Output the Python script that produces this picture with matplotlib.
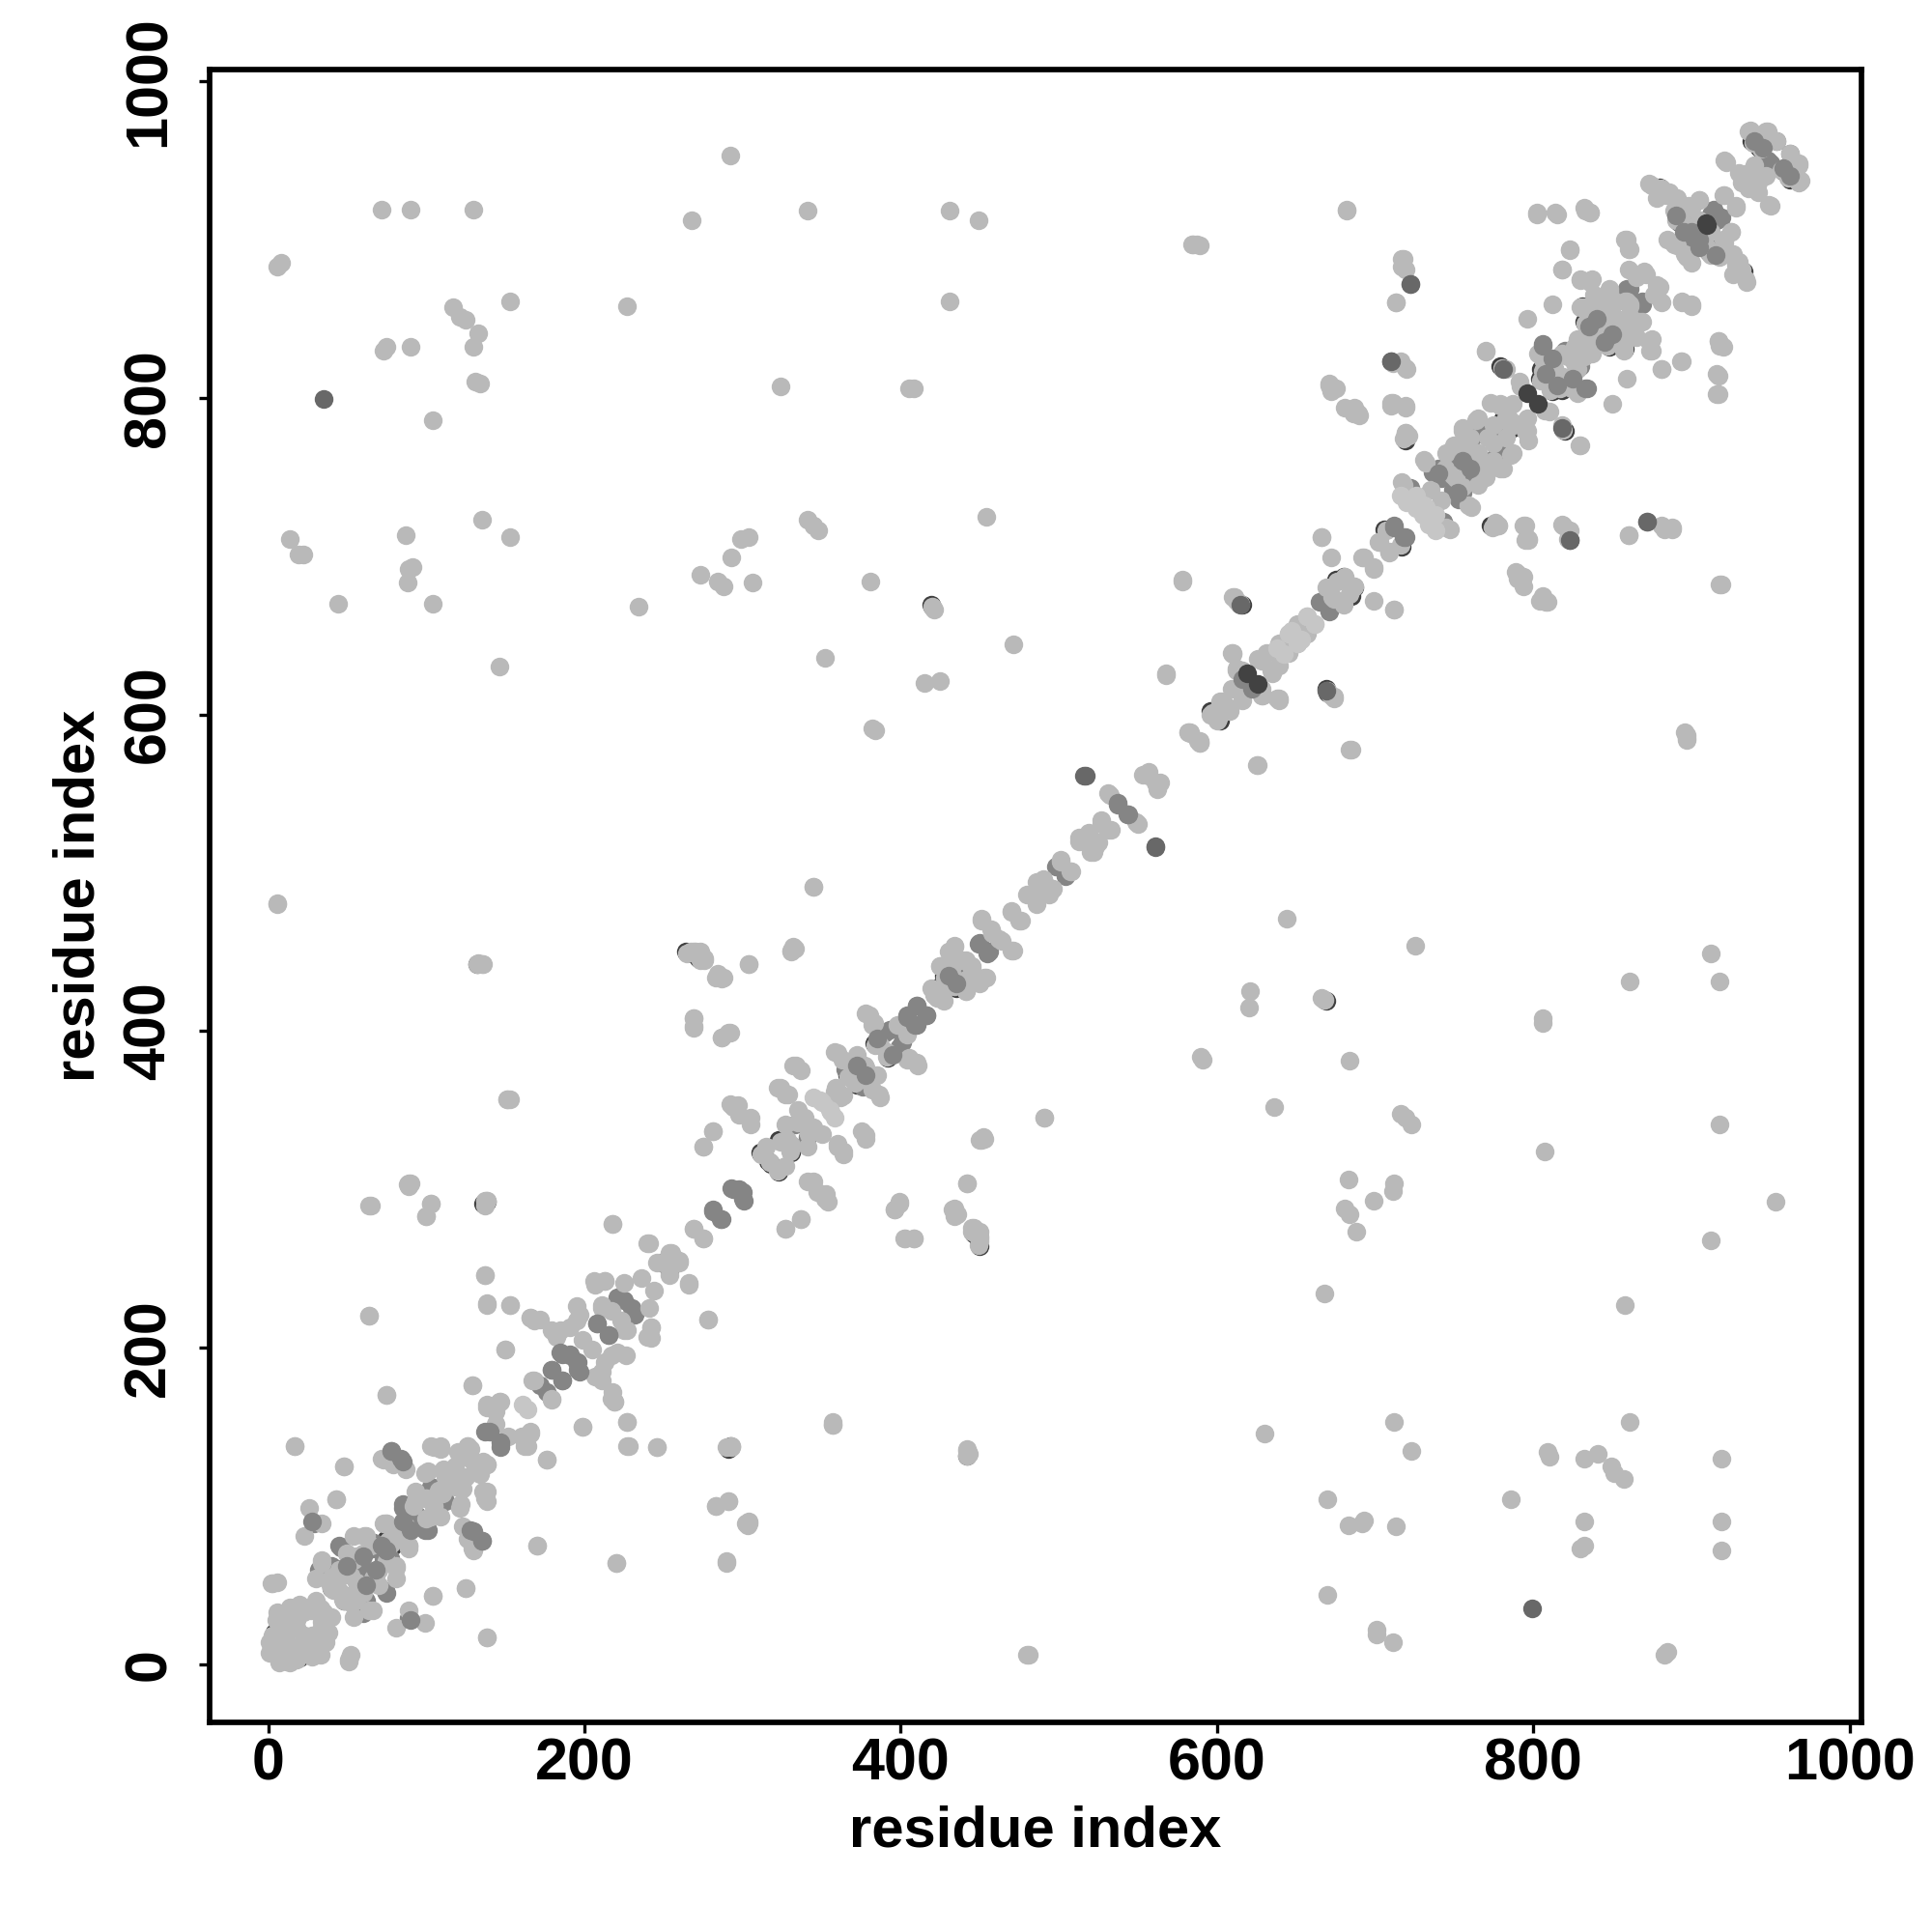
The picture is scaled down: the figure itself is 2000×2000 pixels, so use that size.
import numpy as np
import matplotlib
matplotlib.use("Agg")
import matplotlib.pyplot as plt

# contact pairs (i, j), every pair is drawn on both sides of the diagonal
# these sit under the light points, only a thin edge stays visible
under_dark = [
    (4, 20), (10, 13), (17, 24), (40, 48), (44, 47), (75, 79), (86, 88), (123, 132), (127, 131),
    (264, 450), (311, 323), (316, 318), (323, 331), (327, 332), (366, 372), (383, 392), (386, 392),
    (427, 435), (431, 435), (425, 428), (596, 602), (616, 620), (669, 616), (675, 685), (680, 687),
    (706, 717), (757, 768), (773, 719), (781, 787), (805, 818), (812, 820), (804, 812), (808, 811),
    (779, 820), (783, 789), (831, 858), (832, 848), (836, 842), (838, 842), (857, 862), (858, 862),
    (880, 933), (892, 911), (901, 907), (897, 909), (938, 962), (943, 958), (823, 710), (796, 711),
    (272, 446), (419, 669), (136, 291), (292, 138), (442, 132), (449, 268), (670, 614),
]
under_cover = [
    (5, 19), (11, 12), (18, 23), (41, 47), (45, 46), (76, 78), (87, 87), (124, 131), (128, 130),
    (265, 449), (312, 322), (317, 317), (324, 330), (328, 331), (367, 371), (384, 391), (387, 391),
    (428, 434), (432, 434), (426, 427), (597, 601), (617, 619), (670, 615), (676, 684), (681, 686),
    (707, 716), (758, 767), (774, 718), (782, 786), (806, 817), (813, 819), (805, 811), (809, 810),
    (780, 819), (784, 788), (832, 857), (833, 847), (837, 841), (839, 841), (858, 861), (859, 861),
    (881, 932), (893, 910), (902, 906), (898, 908), (939, 961), (944, 957), (822, 711), (797, 710),
    (273, 445), (420, 668), (137, 290), (293, 137), (443, 133), (450, 269), (671, 613),
]

mid_under = [
    (89, 29), (40, 62), (45, 75), (56, 62), (65, 58), (61, 42), (74, 46), (60, 32), (67, 77),
    (73, 66), (99, 85), (85, 101), (95, 93), (103, 112), (172, 176), (221, 232), (230, 225),
    (254, 248), (281, 286), (287, 281), (333, 341), (365, 376), (390, 399), (401, 393), (433, 443),
    (443, 437), (449, 455), (456, 450), (498, 504), (504, 499), (665, 671), (671, 666), (721, 743),
    (740, 755), (742, 749), (748, 757), (753, 736), (743, 722), (761, 757), (768, 761), (766, 777),
    (781, 777), (806, 834), (820, 830), (859, 869), (869, 861), (899, 907), (901, 895), (914, 919),
    (916, 912), (950, 948), (962, 954), (420, 668),
]

pale = [
    (716, 738), (726, 730), (731, 732), (734, 720), (738, 726), (653, 647), (642, 638), (657, 662),
    (662, 657), (645, 651), (349, 356), (355, 350), (358, 345), (161, 164),
]

light = [
    # far from the diagonal
    (6, 883), (8, 885), (72, 919), (90, 919), (130, 919), (268, 912), (292, 953), (341, 918),
    (431, 918), (449, 912), (584, 897), (589, 896), (682, 918), (227, 858), (431, 861), (153, 861),
    (117, 857), (121, 851), (125, 849), (133, 841), (130, 832), (73, 830), (75, 832), (90, 832),
    (131, 810), (134, 809), (324, 807), (405, 806), (408, 806), (104, 786), (14, 711), (19, 701),
    (22, 701), (87, 713), (135, 723), (153, 712), (91, 693), (89, 692), (88, 683), (44, 670),
    (104, 670), (146, 630), (234, 668), (273, 688), (284, 684), (288, 681), (293, 699), (299, 711),
    (304, 712), (306, 683), (341, 723), (345, 719), (348, 716), (381, 684), (454, 725), (421, 666),
    (471, 644), (352, 636), (415, 620), (425, 621), (382, 591), (384, 590), (568, 626), (578, 684),
    (583, 589), (589, 582), (610, 674), (609, 639), (625, 568), (685, 578), (639, 610), (672, 612),
    (674, 611), (666, 712), (672, 699), (712, 666), (671, 808), (675, 806), (681, 794), (686, 790),
    (689, 790), (713, 860), (717, 888), (717, 883), (719, 819), (716, 823), (710, 795), (719, 795),
    (719, 778), (721, 776), (802, 917), (814, 917), (832, 920), (836, 917), (823, 894), (818, 881),
    (812, 859), (796, 850), (770, 830), (783, 818), (858, 900), (860, 894), (881, 860), (894, 861),
    (900, 859), (893, 823), (881, 818), (917, 836), (918, 833), (916, 815), (916, 802), (829, 770),
    (818, 720), (822, 716), (778, 719), (794, 719), (797, 711), (860, 713), (881, 719), (888, 718),
    (919, 682), (789, 690), (794, 687), (804, 672), (809, 671), (897, 587), (897, 585), (267, 450),
    (270, 450), (276, 445), (283, 434), (288, 434), (304, 442), (331, 451), (333, 452), (345, 491),
    (6, 480), (132, 442), (136, 442), (269, 408), (269, 402), (287, 396), (292, 399), (292, 354),
    (297, 353), (305, 345), (151, 357), (153, 357), (281, 337), (275, 327), (138, 293), (88, 303),
    (90, 304), (65, 290), (103, 291), (100, 283), (240, 266), (218, 278), (269, 275), (275, 269),
    (327, 275), (337, 281), (341, 305), (347, 298), (352, 294), (360, 327), (364, 324), (378, 334),
    (396, 287), (399, 291), (403, 269), (408, 269), (433, 287), (436, 284), (442, 304), (446, 276),
    (450, 273), (450, 331), (453, 332), (491, 345), (137, 246), (138, 227), (153, 227), (150, 199),
    (64, 220), (75, 170), (129, 176), (199, 150), (227, 153), (228, 138), (246, 137), (176, 129),
    (278, 218), (266, 241), (220, 64), (170, 75), (138, 17), (104, 43), (125, 48), (17, 138),
    (48, 125), (43, 104), (2, 51), (6, 52), (51, 3), (290, 64), (283, 100), (291, 103), (302, 89),
    (304, 89), (293, 138), (357, 151), (442, 135), (481, 6), (26, 99), (34, 89), (23, 81),
    # along the diagonal, 0 to 250
    (1, 7), (2, 12), (3, 18), (1, 14), (4, 9), (6, 15), (7, 24), (5, 28), (6, 33), (10, 30),
    (12, 20), (12, 26), (14, 36), (16, 30), (18, 28), (20, 38), (22, 33), (27, 34), (30, 40),
    (35, 33), (34, 64), (30, 54), (54, 81), (62, 81), (73, 89), (54, 66), (52, 56), (44, 54),
    (52, 39), (66, 34), (81, 61), (89, 75), (85, 79), (75, 89), (103, 93), (72, 130), (87, 123),
    (103, 138), (109, 136), (93, 109), (99, 121), (111, 123), (120, 134), (126, 138), (116, 115),
    (122, 101), (122, 111), (126, 79), (129, 73), (137, 105), (138, 109), (138, 164), (146, 166),
    (144, 152), (138, 126), (128, 136), (160, 144), (166, 147), (162, 138), (167, 179), (179, 168),
    (166, 219), (172, 218), (179, 211), (185, 211), (195, 226), (195, 217), (206, 242), (213, 242),
    (225, 241), (236, 244), (250, 254), (211, 227), (217, 223), (199, 205), (213, 191), (221, 197),
    (217, 168), (219, 166), (207, 182), (240, 207), (242, 213), (225, 211), (246, 254), (254, 260),
    (260, 255), (108, 110), (112, 118), (105, 100), (118, 125), (92, 100), (100, 105), (45, 60),
    (50, 70), (40, 55), (60, 70), (65, 75), (48, 40), (58, 48), (68, 56),
    # along the diagonal, 250 to 500
    (332, 378), (337, 375), (322, 364), (329, 360), (315, 327), (327, 341), (339, 345), (342, 335),
    (358, 362), (364, 359), (358, 387), (363, 382), (377, 378), (380, 368), (386, 360), (378, 411),
    (383, 405), (398, 404), (404, 382), (410, 380), (434, 454), (425, 441), (439, 445), (445, 441),
    (421, 423), (427, 419), (441, 425), (453, 434), (451, 471), (458, 462), (464, 457), (470, 451),
    (470, 476), (475, 470), (480, 486), (486, 482), (492, 492), (486, 494), (490, 496), (495, 490),
    (335, 350), (372, 385), (368, 380), (430, 450), (440, 432), (432, 436), (445, 432),
    # along the diagonal, 500 to 730
    (553, 562), (557, 564), (561, 557), (531, 550), (549, 532), (527, 533), (513, 522), (519, 525),
    (523, 517), (520, 513), (531, 527), (501, 508), (507, 501), (612, 628), (626, 635), (634, 628),
    (631, 639), (639, 645), (645, 651), (651, 657), (628, 616), (629, 612), (638, 610), (609, 616),
    (602, 608), (608, 604), (600, 596), (582, 589), (588, 583), (680, 686), (687, 681), (669, 680),
    (674, 673), (692, 699), (699, 693), (702, 709), (709, 703),
    # along the diagonal, 730 to 970
    (717, 747), (735, 742), (755, 744), (759, 732), (745, 718), (731, 761), (751, 749), (771, 757),
    (787, 765), (779, 755), (755, 781), (764, 786), (771, 775), (773, 797), (779, 795), (796, 787),
    (775, 783), (796, 779), (791, 810), (807, 792), (803, 828), (816, 808), (824, 806),
    (818, 828), (826, 832), (828, 837), (826, 822), (836, 832), (857, 830), (873, 836), (874, 830),
    (842, 859), (849, 856), (859, 850), (867, 848), (853, 846), (830, 875), (837, 875), (848, 869),
    (870, 880), (878, 871), (865, 876), (873, 935), (886, 930), (891, 922), (878, 926), (898, 921),
    (889, 897), (896, 891), (920, 900), (918, 889), (928, 884), (934, 875), (926, 891), (921, 950),
    (930, 942), (940, 947), (942, 936), (949, 922), (936, 932), (920, 928), (928, 921), (936, 968),
    (948, 968), (954, 962), (968, 947), (969, 937), (835, 850), (845, 845), (850, 862), (838, 865),
    (862, 842), (745, 765), (760, 775), (765, 765), (750, 770), (905, 925), (890, 912), (910, 895),
    (925, 905), (900, 885), (912, 905),
]

mid_top = [
    (28, 90), (78, 135), (84, 130), (128, 85), (135, 78), (137, 147), (147, 140), (186, 196),
    (191, 196), (195, 191), (208, 215), (215, 208), (294, 300), (298, 300), (301, 293), (404, 410),
    (410, 416), (416, 410), (409, 404), (537, 544), (543, 537), (616, 622), (712, 719), (718, 712),
    (833, 806), (872, 722), (179, 186), (186, 179), (197, 185), (60, 68), (50, 62), (75, 72),
    (85, 90), (385, 395), (372, 378), (430, 435), (740, 752), (755, 760), (812, 825), (808, 815),
    (835, 845), (850, 840), (895, 905), (905, 900), (890, 915), (940, 962), (958, 945),
]

dark_top = [(35, 799), (516, 561), (517, 561), (615, 669), (722, 872), (710, 823), (818, 781)]
black_top = [(619, 626), (796, 803), (909, 910)]

gray_under = "#3f3f3f"
gray_pale = "#c6c6c6"
gray_light = "#b9b9b9"
gray_mid = "#858585"
gray_dark = "#686868"
gray_black = "#424242"

plt.rcParams["font.family"] = ["Liberation Sans", "DejaVu Sans"]
plt.rcParams["font.weight"] = "bold"

fig = plt.figure(figsize=(20, 20), dpi=100)
ax = fig.add_axes([217 / 2000, 1 - 1783 / 2000, (1927 - 217) / 2000, (1783 - 72) / 2000])


def draw_pairs(pairs, color):
    p = np.array(pairs)
    xs = np.concatenate([p[:, 0], p[:, 1]])
    ys = np.concatenate([p[:, 1], p[:, 0]])
    ax.scatter(xs, ys, s=195, c=color, linewidths=0, zorder=2)


draw_pairs(under_dark, gray_under)
draw_pairs(mid_under, gray_mid)
draw_pairs(under_cover, gray_light)
draw_pairs(light, gray_light)
draw_pairs(pale, gray_pale)
draw_pairs(mid_top, gray_mid)
draw_pairs(dark_top, gray_dark)
draw_pairs(black_top, gray_black)

ax.set_xlim(-37, 1007.5)
ax.set_ylim(-36.7, 1007.3)
ax.set_xticks([0, 200, 400, 600, 800, 1000])
ax.set_yticks([0, 200, 400, 600, 800, 1000])
ax.tick_params(axis="x", labelsize=44, width=2.4, length=8, pad=3)
ax.tick_params(axis="y", labelsize=44, width=2.4, length=8, pad=16)
plt.setp(ax.get_yticklabels(), rotation=90, va="center")
for s in ax.spines.values():
    s.set_linewidth(4.1)

ax.set_xlabel("residue index", fontsize=43, fontweight="bold")
ax.set_ylabel("residue index", fontsize=43, fontweight="bold")
ax.xaxis.set_label_coords(0.5, -0.05)
ax.yaxis.set_label_coords(-0.063, 0.5)

fig.savefig("out.png", dpi=100)
